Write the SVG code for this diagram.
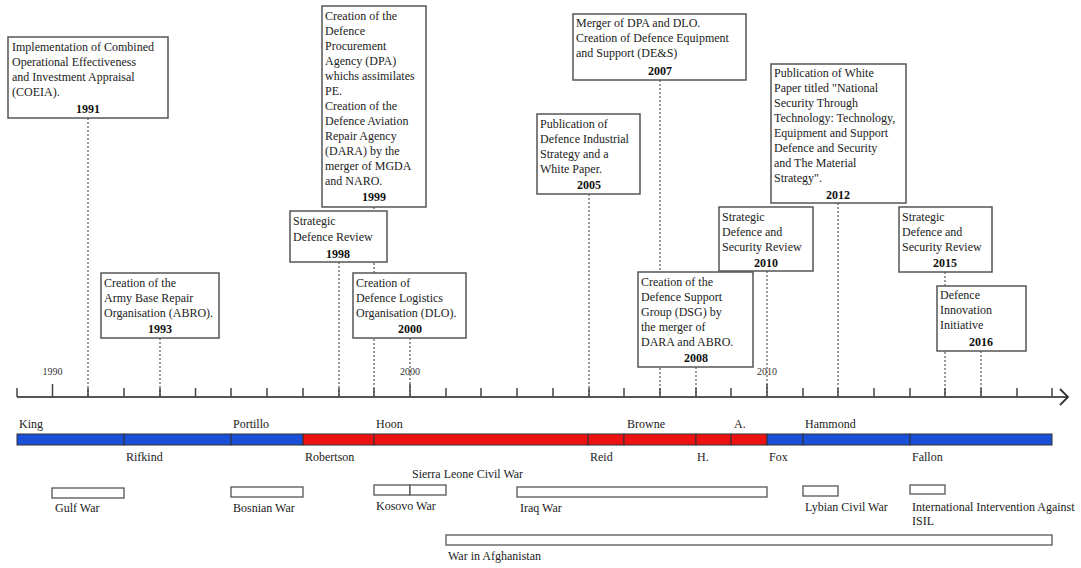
<svg xmlns="http://www.w3.org/2000/svg" width="1081" height="568" viewBox="0 0 1081 568">
<style>
.bx{fill:#fff;stroke:#555;stroke-width:1.5}
.t{font-family:"Liberation Serif","Times New Roman",serif;font-size:12px;fill:#222}
.y{font-family:"Liberation Serif","Times New Roman",serif;font-size:12px;font-weight:bold;fill:#111;text-anchor:middle}
.dot{stroke:#666;stroke-width:1.3;stroke-dasharray:2 2;fill:none}
.ax{stroke:#555;stroke-width:2;fill:none}
.tk{stroke:#444;stroke-width:1.5}
.al{font-family:"Liberation Serif","Times New Roman",serif;font-size:10px;fill:#333;text-anchor:middle}
.m{font-family:"Liberation Serif","Times New Roman",serif;font-size:12px;fill:#222}
.w{font-family:"Liberation Serif","Times New Roman",serif;font-size:12px;fill:#222}
.wb{fill:#fff;stroke:#555;stroke-width:1.3}
.blue{fill:#1a4fd8;stroke:#333;stroke-width:1}
.red{fill:#ee1111;stroke:#333;stroke-width:1}
</style>
<rect width="1081" height="568" fill="#fff"/>
<g id="connectors">
<line class="dot" x1="88" y1="118" x2="88" y2="397"/>
<line class="dot" x1="160" y1="338" x2="160" y2="397"/>
<line class="dot" x1="339" y1="262" x2="339" y2="397"/>
<line class="dot" x1="374" y1="207" x2="374" y2="397"/>
<line class="dot" x1="410" y1="338" x2="410" y2="397"/>
<line class="dot" x1="589" y1="194" x2="589" y2="397"/>
<line class="dot" x1="660" y1="80" x2="660" y2="397"/>
<line class="dot" x1="696" y1="367" x2="696" y2="397"/>
<line class="dot" x1="767" y1="271" x2="767" y2="397"/>
<line class="dot" x1="838" y1="203" x2="838" y2="397"/>
<line class="dot" x1="945" y1="272" x2="945" y2="397"/>
<line class="dot" x1="981" y1="351" x2="981" y2="397"/>
</g>
<g id="axis">
<line class="ax" x1="17" y1="397" x2="1067" y2="397"/>
<polyline points="1060,389 1068,397 1060,405" fill="none" stroke="#333" stroke-width="1.8"/>
<path class="tk" d="M17 388V397M52.5 384V397M88 388V397M124 388V397M160 388V397M195.5 388V397M231 388V397M267 388V397M303 388V397M339 388V397M374 388V397M410 384V397M446 388V397M481 388V397M517 388V397M553 388V397M589 388V397M624 388V397M660 388V397M696 388V397M731 388V397M767 384V397M803 388V397M838 388V397M874 388V397M910 388V397M945 388V397M981 388V397M1017 388V397M1052 388V397"/>
<text class="al" x="52.5" y="375">1990</text>
<text class="al" x="410" y="375">2000</text>
<text class="al" x="767" y="375">2010</text>
</g>
<g id="n1991">
<rect class="bx" x="8" y="37" width="160" height="81"/>
<text class="t" x="12" y="51">Implementation of Combined</text>
<text class="t" x="12" y="66">Operational Effectiveness</text>
<text class="t" x="12" y="81">and Investment Appraisal</text>
<text class="t" x="12" y="96">(COEIA).</text>
<text class="y" x="88" y="113">1991</text>
</g>
<g id="n1993">
<rect class="bx" x="101" y="273" width="118" height="65"/>
<text class="t" x="104" y="287">Creation of the</text>
<text class="t" x="104" y="302">Army Base Repair</text>
<text class="t" x="104" y="317">Organisation (ABRO).</text>
<text class="y" x="160" y="333">1993</text>
</g>
<g id="n1999">
<rect class="bx" x="322" y="6" width="104" height="201"/>
<text class="t" x="325" y="20">Creation of the</text>
<text class="t" x="325" y="35">Defence</text>
<text class="t" x="325" y="50">Procurement</text>
<text class="t" x="325" y="65">Agency (DPA)</text>
<text class="t" x="325" y="80">whichs assimilates</text>
<text class="t" x="325" y="95">PE.</text>
<text class="t" x="325" y="110">Creation of the</text>
<text class="t" x="325" y="125">Defence Aviation</text>
<text class="t" x="325" y="140">Repair Agency</text>
<text class="t" x="325" y="155">(DARA) by the</text>
<text class="t" x="325" y="170">merger of MGDA</text>
<text class="t" x="325" y="185">and NARO.</text>
<text class="y" x="374" y="201">1999</text>
</g>
<g id="n1998">
<rect class="bx" x="290" y="211" width="97" height="51"/>
<text class="t" x="293" y="225">Strategic</text>
<text class="t" x="293" y="241">Defence Review</text>
<text class="y" x="338" y="258">1998</text>
</g>
<g id="n2000">
<rect class="bx" x="353" y="273" width="113" height="65"/>
<text class="t" x="356" y="287">Creation of</text>
<text class="t" x="356" y="302">Defence Logistics</text>
<text class="t" x="356" y="317">Organisation (DLO).</text>
<text class="y" x="410" y="333">2000</text>
</g>
<g id="n2005">
<rect class="bx" x="537" y="114" width="103" height="80"/>
<text class="t" x="540" y="128">Publication of</text>
<text class="t" x="540" y="143">Defence Industrial</text>
<text class="t" x="540" y="158">Strategy and a</text>
<text class="t" x="540" y="173">White Paper.</text>
<text class="y" x="589" y="189">2005</text>
</g>
<g id="n2007">
<rect class="bx" x="573" y="14" width="173" height="66"/>
<text class="t" x="576" y="27">Merger of DPA and DLO.</text>
<text class="t" x="576" y="42">Creation of Defence Equipment</text>
<text class="t" x="576" y="57">and Support (DE&amp;S)</text>
<text class="y" x="660" y="75">2007</text>
</g>
<g id="n2008">
<rect class="bx" x="638" y="272" width="115" height="95"/>
<text class="t" x="641" y="286">Creation of the</text>
<text class="t" x="641" y="301">Defence Support</text>
<text class="t" x="641" y="316">Group (DSG) by</text>
<text class="t" x="641" y="331">the merger of</text>
<text class="t" x="641" y="346">DARA and ABRO.</text>
<text class="y" x="696" y="362">2008</text>
</g>
<g id="n2010">
<rect class="bx" x="719" y="207" width="94" height="64"/>
<text class="t" x="722" y="221">Strategic</text>
<text class="t" x="722" y="236">Defence and</text>
<text class="t" x="722" y="251">Security Review</text>
<text class="y" x="766" y="267">2010</text>
</g>
<g id="n2012">
<rect class="bx" x="771" y="64" width="135" height="139"/>
<text class="t" x="774" y="77">Publication of White</text>
<text class="t" x="774" y="92">Paper titled "National</text>
<text class="t" x="774" y="107">Security Through</text>
<text class="t" x="774" y="122">Technology: Technology,</text>
<text class="t" x="774" y="137">Equipment and Support</text>
<text class="t" x="774" y="152">Defence and Security</text>
<text class="t" x="774" y="167">and The Material</text>
<text class="t" x="774" y="182">Strategy".</text>
<text class="y" x="838" y="199">2012</text>
</g>
<g id="n2015">
<rect class="bx" x="899" y="207" width="93" height="65"/>
<text class="t" x="902" y="221">Strategic</text>
<text class="t" x="902" y="236">Defence and</text>
<text class="t" x="902" y="251">Security Review</text>
<text class="y" x="945" y="267">2015</text>
</g>
<g id="n2016">
<rect class="bx" x="937" y="286" width="89" height="65"/>
<text class="t" x="940" y="299">Defence</text>
<text class="t" x="940" y="314">Innovation</text>
<text class="t" x="940" y="329">Initiative</text>
<text class="y" x="981" y="346">2016</text>
</g>
<g id="ministers">
<rect class="blue" x="17" y="434" width="107" height="11"/>
<rect class="blue" x="124" y="434" width="107" height="11"/>
<rect class="blue" x="231" y="434" width="72" height="11"/>
<rect class="red" x="303" y="434" width="71" height="11"/>
<rect class="red" x="374" y="434" width="214" height="11"/>
<rect class="red" x="588" y="434" width="36" height="11"/>
<rect class="red" x="624" y="434" width="72" height="11"/>
<rect class="red" x="696" y="434" width="35" height="11"/>
<rect class="red" x="731" y="434" width="36" height="11"/>
<rect class="blue" x="767" y="434" width="36" height="11"/>
<rect class="blue" x="803" y="434" width="107" height="11"/>
<rect class="blue" x="910" y="434" width="142" height="11"/>
<text class="m" x="19" y="428">King</text>
<text class="m" x="233" y="428">Portillo</text>
<text class="m" x="376" y="428">Hoon</text>
<text class="m" x="627" y="428">Browne</text>
<text class="m" x="734" y="428">A.</text>
<text class="m" x="805" y="428">Hammond</text>
<text class="m" x="126" y="461">Rifkind</text>
<text class="m" x="305" y="461">Robertson</text>
<text class="m" x="590" y="461">Reid</text>
<text class="m" x="697" y="461">H.</text>
<text class="m" x="769" y="461">Fox</text>
<text class="m" x="912" y="461">Fallon</text>
</g>
<g id="wars">
<rect class="wb" x="52" y="488" width="72" height="10"/>
<text class="w" x="55" y="512">Gulf War</text>
<rect class="wb" x="231" y="487" width="72" height="10"/>
<text class="w" x="233" y="512">Bosnian War</text>
<rect class="wb" x="374" y="485" width="36" height="10"/>
<rect class="wb" x="410" y="485" width="36" height="10"/>
<text class="w" x="412" y="478">Sierra Leone Civil War</text>
<text class="w" x="376" y="510">Kosovo War</text>
<rect class="wb" x="517" y="487" width="250" height="10"/>
<text class="w" x="520" y="512">Iraq War</text>
<rect class="wb" x="803" y="486" width="35" height="10"/>
<text class="w" x="805" y="511">Lybian Civil War</text>
<rect class="wb" x="910" y="485" width="35" height="9"/>
<text class="w" x="912" y="511">International Intervention Against</text>
<text class="w" x="912" y="525">ISIL</text>
<rect class="wb" x="446" y="535" width="606" height="10"/>
<text class="w" x="448" y="560">War in Afghanistan</text>
</g>
</svg>
